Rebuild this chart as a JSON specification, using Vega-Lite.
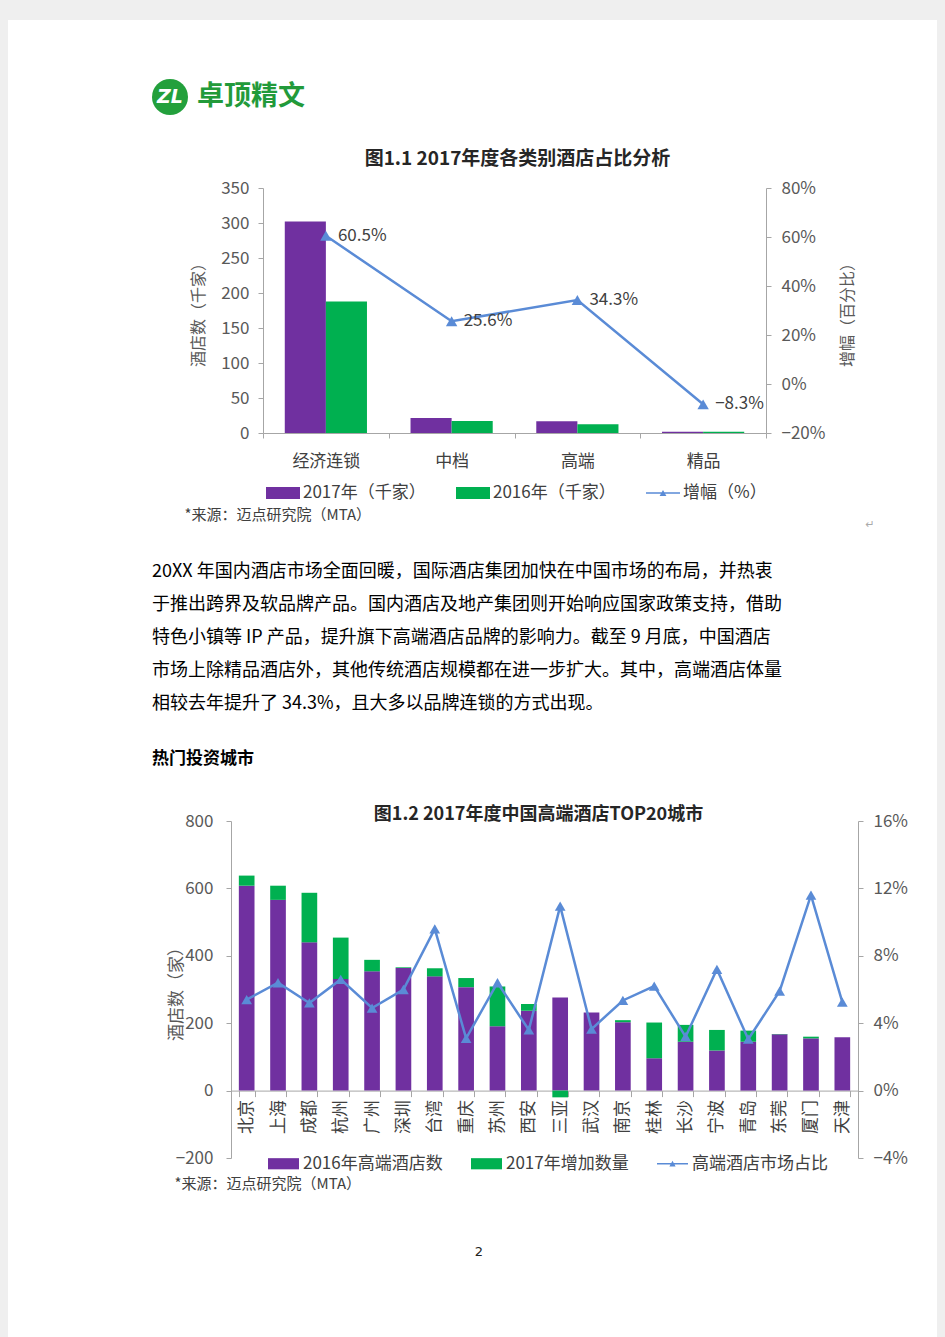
{
  "$schema": "https://vega.github.io/schema/vega-lite/v6.json",
  "autosize": {"type": "none"},
  "padding": {"left": 0, "top": 0, "right": 945, "bottom": 1337},
  "background": "#ffffff",
  "config": {
    "view": {"stroke": null},
    "font": "Noto Sans CJK SC",
    "axis": {"labelFont": "Noto Sans CJK SC", "titleFont": "Noto Sans CJK SC", "labelColor": "#595959", "titleColor": "#595959", "domainColor": "#a6a6a6", "tickColor": "#a6a6a6", "grid": false, "labelFontSize": 17, "titleFontSize": 16, "titleFontWeight": "normal", "tickSize": 5},
    "legend": {"labelFont": "Noto Sans CJK SC", "labelColor": "#404040", "labelFontSize": 17, "padding": 0},
    "title": {"font": "Noto Sans CJK SC"}
  },
  "datasets": {
    "c1bars": [
      {"category": "经济连锁", "year": "2017年（千家）", "count": 302},
      {"category": "经济连锁", "year": "2016年（千家）", "count": 188},
      {"category": "中档", "year": "2017年（千家）", "count": 21.6},
      {"category": "中档", "year": "2016年（千家）", "count": 17.2},
      {"category": "高端", "year": "2017年（千家）", "count": 16.8},
      {"category": "高端", "year": "2016年（千家）", "count": 12.5},
      {"category": "精品", "year": "2017年（千家）", "count": 1.65},
      {"category": "精品", "year": "2016年（千家）", "count": 1.8}
    ],
    "c1line": [
      {"category": "经济连锁", "pct": 0.605},
      {"category": "中档", "pct": 0.256},
      {"category": "高端", "pct": 0.343},
      {"category": "精品", "pct": -0.083}
    ],
    "c2bars": [
      {"city": "北京", "series": "2016年高端酒店数", "count": 608}, {"city": "北京", "series": "2017年增加数量", "count": 30},
      {"city": "上海", "series": "2016年高端酒店数", "count": 566}, {"city": "上海", "series": "2017年增加数量", "count": 42},
      {"city": "成都", "series": "2016年高端酒店数", "count": 440}, {"city": "成都", "series": "2017年增加数量", "count": 147},
      {"city": "杭州", "series": "2016年高端酒店数", "count": 331}, {"city": "杭州", "series": "2017年增加数量", "count": 123},
      {"city": "广州", "series": "2016年高端酒店数", "count": 354}, {"city": "广州", "series": "2017年增加数量", "count": 34},
      {"city": "深圳", "series": "2016年高端酒店数", "count": 364}, {"city": "深圳", "series": "2017年增加数量", "count": 2},
      {"city": "台湾", "series": "2016年高端酒店数", "count": 339}, {"city": "台湾", "series": "2017年增加数量", "count": 24},
      {"city": "重庆", "series": "2016年高端酒店数", "count": 307}, {"city": "重庆", "series": "2017年增加数量", "count": 27},
      {"city": "苏州", "series": "2016年高端酒店数", "count": 191}, {"city": "苏州", "series": "2017年增加数量", "count": 118},
      {"city": "西安", "series": "2016年高端酒店数", "count": 237}, {"city": "西安", "series": "2017年增加数量", "count": 20},
      {"city": "三亚", "series": "2016年高端酒店数", "count": 276}, {"city": "三亚", "series": "2017年增加数量", "count": -20},
      {"city": "武汉", "series": "2016年高端酒店数", "count": 232}, {"city": "武汉", "series": "2017年增加数量", "count": 0},
      {"city": "南京", "series": "2016年高端酒店数", "count": 203}, {"city": "南京", "series": "2017年增加数量", "count": 6},
      {"city": "桂林", "series": "2016年高端酒店数", "count": 96}, {"city": "桂林", "series": "2017年增加数量", "count": 106},
      {"city": "长沙", "series": "2016年高端酒店数", "count": 145}, {"city": "长沙", "series": "2017年增加数量", "count": 50},
      {"city": "宁波", "series": "2016年高端酒店数", "count": 119}, {"city": "宁波", "series": "2017年增加数量", "count": 61},
      {"city": "青岛", "series": "2016年高端酒店数", "count": 145}, {"city": "青岛", "series": "2017年增加数量", "count": 33},
      {"city": "东莞", "series": "2016年高端酒店数", "count": 167}, {"city": "东莞", "series": "2017年增加数量", "count": 1},
      {"city": "厦门", "series": "2016年高端酒店数", "count": 155}, {"city": "厦门", "series": "2017年增加数量", "count": 5},
      {"city": "天津", "series": "2016年高端酒店数", "count": 158}, {"city": "天津", "series": "2017年增加数量", "count": 0}
    ],
    "c2line": [
      {"city": "北京", "share": 0.054}, {"city": "上海", "share": 0.064}, {"city": "成都", "share": 0.052},
      {"city": "杭州", "share": 0.066}, {"city": "广州", "share": 0.049}, {"city": "深圳", "share": 0.060},
      {"city": "台湾", "share": 0.096}, {"city": "重庆", "share": 0.031}, {"city": "苏州", "share": 0.064},
      {"city": "西安", "share": 0.036}, {"city": "三亚", "share": 0.1095}, {"city": "武汉", "share": 0.0365},
      {"city": "南京", "share": 0.0535}, {"city": "桂林", "share": 0.062}, {"city": "长沙", "share": 0.032},
      {"city": "宁波", "share": 0.072}, {"city": "青岛", "share": 0.0305}, {"city": "东莞", "share": 0.059},
      {"city": "厦门", "share": 0.116}, {"city": "天津", "share": 0.0525}
    ],
    "para": [
      {"line": 1, "text": "20XX 年国内酒店市场全面回暖，国际酒店集团加快在中国市场的布局，并热衷"},
      {"line": 2, "text": "于推出跨界及软品牌产品。国内酒店及地产集团则开始响应国家政策支持，借助"},
      {"line": 3, "text": "特色小镇等 IP 产品，提升旗下高端酒店品牌的影响力。截至 9 月底，中国酒店"},
      {"line": 4, "text": "市场上除精品酒店外，其他传统酒店规模都在进一步扩大。其中，高端酒店体量"},
      {"line": 5, "text": "相较去年提升了 34.3%，且大多以品牌连锁的方式出现。"}
    ],
    "blank": [{}]
  },
  "spacing": 0,
  "bounds": "flush",
  "resolve": {"scale": {"color": "independent"}, "legend": {"color": "independent"}},
  "vconcat": [
    {"spacing": 0, "bounds": "flush", "vconcat": [
      {"width": 945, "height": 20, "data": {"name": "blank"}, "mark": "text", "encoding": {"text": {"value": ""}}, "view": {"fill": "#efefef"}}
    ]},
    {"spacing": 0, "bounds": "flush", "vconcat": [
      {"width": 8, "height": 1337, "data": {"name": "blank"}, "mark": "text", "encoding": {"text": {"value": ""}}, "view": {"fill": "#efefef"}}
    ]},
    {"spacing": 0, "bounds": "flush", "hconcat": [
      {"width": 937, "height": 1, "data": {"name": "blank"}, "mark": "text", "encoding": {"text": {"value": ""}}},
      {"width": 8, "height": 1337, "data": {"name": "blank"}, "mark": "text", "encoding": {"text": {"value": ""}}, "view": {"fill": "#efefef"}}
    ]},
    {"spacing": 0, "bounds": "flush", "vconcat": [
      {"width": 1, "height": 20, "data": {"name": "blank"}, "mark": "text", "encoding": {"text": {"value": ""}}},
      {"spacing": 0, "bounds": "flush", "hconcat": [
        {"width": 150, "height": 1, "data": {"name": "blank"}, "mark": "text", "encoding": {"text": {"value": ""}}},
        {"width": 40, "height": 154, "data": {"values": [{"t": "ZL"}]},
          "layer": [
            {"mark": {"type": "point", "shape": "circle", "filled": true, "size": 1296, "color": "#23a03c", "opacity": 1}, "encoding": {}},
            {"mark": {"type": "text", "fontSize": 19, "fontWeight": "bold", "fontStyle": "italic", "color": "#ffffff", "font": "DejaVu Sans", "align": "center", "baseline": "middle"}, "encoding": {"text": {"field": "t"}}}
          ]
        },
        {"width": 122, "height": 154, "data": {"values": [{"t": "卓顶精文"}]}, "mark": {"type": "text", "fontSize": 27, "fontWeight": "bold", "color": "#229a3a", "align": "center", "baseline": "middle"}, "encoding": {"text": {"field": "t"}}}
      ]}
    ]},
    {"spacing": 0, "bounds": "flush", "resolve": {"scale": {"color": "independent"}, "legend": {"color": "independent"}}, "vconcat": [
      {"width": 1, "height": 188, "data": {"name": "blank"}, "mark": "text", "encoding": {"text": {"value": ""}}},
      {"spacing": 0, "bounds": "flush", "resolve": {"scale": {"color": "independent"}, "legend": {"color": "independent"}}, "hconcat": [
        {"width": 263, "height": 1, "data": {"name": "blank"}, "mark": "text", "encoding": {"text": {"value": ""}}},
        {
          "width": 503, "height": 245,
          "title": {"text": "图1.1 2017年度各类别酒店占比分析", "fontSize": 19, "fontWeight": "bold", "color": "#262626", "frame": "group", "anchor": "middle", "offset": 10, "dx": 3},
          "layer": [
            {
              "data": {"name": "c1bars"},
              "mark": {"type": "bar"},
              "encoding": {
                "x": {"field": "category", "type": "nominal",
                  "scale": {"domain": ["经济连锁", "中档", "高端", "精品"], "paddingInner": 0, "paddingOuter": 0},
                  "axis": {"title": "*来源：迈点研究院（MTA）", "titleX": -79, "titleY": 81, "titleAlign": "left", "titleBaseline": "middle", "titleAngle": 0, "titleFontSize": 15, "titleColor": "#404040", "labelAngle": 0, "labelPadding": 15, "tickBand": "extent", "labelColor": "#404040"}},
                "xOffset": {"field": "year", "type": "nominal", "scale": {"domain": ["2017年（千家）", "2016年（千家）"], "paddingInner": 0, "paddingOuter": 0.53}},
                "y": {"field": "count", "type": "quantitative", "scale": {"domain": [0, 350]},
                  "axis": {"values": [0, 50, 100, 150, 200, 250, 300, 350], "title": "酒店数（千家）", "titlePadding": 14, "labelPadding": 9, "orient": "left"}},
                "color": {"field": "year", "type": "nominal",
                  "scale": {"domain": ["2017年（千家）", "2016年（千家）", "增幅（%）"], "range": ["#7030a0", "#00b050", "#5a8bd6"]},
                  "legend": {"orient": "none", "legendX": 3, "legendY": 288, "direction": "horizontal", "title": null, "symbolSize": 1156, "labelOffset": 3, "columnPadding": 30, "symbolStrokeWidth": 0,
                    "encode": {"symbols": {"update": {
                      "shape": {"signal": "datum.value === '增幅（%）' ? 'M-1,-0.05H1V0.05H-1Z M-0.2,0.17L0,-0.18L0.2,0.17Z' : 'M-1,-0.36H1V0.36H-1Z'"},
                      "fill": {"signal": "datum.value === '增幅（%）' ? '#5a8bd6' : (datum.value === '2017年（千家）' ? '#7030a0' : '#00b050')"},
                      "strokeWidth": {"value": 0},
                      "opacity": {"value": 1}
                    }}}}
                }
              }
            },
            {
              "data": {"name": "c1line"},
              "encoding": {
                "x": {"field": "category", "type": "nominal"},
                "y": {"field": "pct", "type": "quantitative", "scale": {"domain": [-0.2, 0.8]},
                  "axis": {"orient": "right", "format": ".0%", "values": [-0.2, 0, 0.2, 0.4, 0.6, 0.8], "title": "增幅（百分比）", "titleAngle": -90, "titlePadding": 31, "labelPadding": 10}}
              },
              "layer": [
                {"mark": {"type": "line", "strokeWidth": 2.5, "point": {"shape": "triangle-up", "filled": true, "size": 130}}, "encoding": {"color": {"datum": "增幅（%）"}}},
                {"mark": {"type": "text", "align": "left", "baseline": "middle", "dx": 12, "fontSize": 17, "color": "#404040"}, "encoding": {"text": {"field": "pct", "type": "quantitative", "format": ".1%"}}}
              ]
            }
          ],
          "resolve": {"scale": {"y": "independent"}}
        }
      ]}
    ]},
    {"spacing": 0, "bounds": "flush", "vconcat": [
      {"width": 1, "height": 433, "data": {"name": "blank"}, "mark": "text", "encoding": {"text": {"value": ""}}},
      {"spacing": 0, "bounds": "flush", "hconcat": [
        {"width": 812, "height": 1, "data": {"name": "blank"}, "mark": "text", "encoding": {"text": {"value": ""}}},
        {"width": 116, "height": 184, "data": {"values": [{"t": "↵"}]}, "mark": {"type": "text", "fontSize": 11, "color": "#aaaaaa", "font": "DejaVu Sans"}, "encoding": {"text": {"field": "t"}}}
      ]}
    ]},
    {"spacing": 0, "bounds": "flush", "vconcat": [
      {"width": 1, "height": 555, "data": {"name": "blank"}, "mark": "text", "encoding": {"text": {"value": ""}}},
      {"spacing": 0, "bounds": "flush", "hconcat": [
        {"width": 152, "height": 1, "data": {"name": "blank"}, "mark": "text", "encoding": {"text": {"value": ""}}},
        {
          "width": 660, "height": 166,
          "title": {"text": "热门投资城市", "orient": "bottom", "anchor": "start", "frame": "group", "offset": 30, "fontSize": 17, "fontWeight": "bold", "color": "#000000"},
          "data": {"name": "para"},
          "mark": {"type": "text", "align": "left", "baseline": "middle", "fontSize": 18, "color": "#000000"},
          "encoding": {
            "x": {"datum": 0, "type": "quantitative", "scale": {"domain": [0, 1]}, "axis": null},
            "y": {"field": "line", "type": "ordinal", "axis": null},
            "text": {"field": "text"}
          }
        }
      ]}
    ]},
    {"spacing": 0, "bounds": "flush", "resolve": {"scale": {"color": "independent"}, "legend": {"color": "independent"}}, "vconcat": [
      {"width": 1, "height": 821, "data": {"name": "blank"}, "mark": "text", "encoding": {"text": {"value": ""}}},
      {"spacing": 0, "bounds": "flush", "resolve": {"scale": {"color": "independent"}, "legend": {"color": "independent"}}, "hconcat": [
        {"width": 231, "height": 1, "data": {"name": "blank"}, "mark": "text", "encoding": {"text": {"value": ""}}},
        {
          "width": 627, "height": 337,
          "title": {"text": "图1.2 2017年度中国高端酒店TOP20城市", "fontSize": 18, "fontWeight": "bold", "color": "#262626", "frame": "group", "anchor": "middle", "offset": -12, "dx": -6},
          "layer": [
            {
              "data": {"name": "c2bars"},
              "mark": {"type": "bar"},
              "encoding": {
                "x": {"field": "city", "type": "nominal",
                  "scale": {"domain": ["北京", "上海", "成都", "杭州", "广州", "深圳", "台湾", "重庆", "苏州", "西安", "三亚", "武汉", "南京", "桂林", "长沙", "宁波", "青岛", "东莞", "厦门", "天津"], "paddingInner": 0.5, "paddingOuter": 0.25},
                  "axis": {"title": "*来源：迈点研究院（MTA）", "titleX": -57, "titleY": 92.4, "titleAlign": "left", "titleBaseline": "middle", "titleAngle": 0, "titleFontSize": 15, "titleColor": "#404040", "labelAngle": -90, "labelPadding": 3, "tickBand": "extent", "offset": -67.4, "tickSize": 6, "labelColor": "#404040"}},
                "y": {"field": "count", "type": "quantitative", "stack": "zero", "scale": {"domain": [-200, 800]},
                  "axis": {"values": [-200, 0, 200, 400, 600, 800], "title": "酒店数（家）", "titleFontSize": 17, "titlePadding": -10, "labelPadding": 13}},
                "order": {"field": "series", "type": "ordinal", "sort": "ascending"},
                "color": {"field": "series", "type": "nominal",
                  "scale": {"domain": ["2016年高端酒店数", "2017年增加数量", "高端酒店市场占比"], "range": ["#7030a0", "#00b050", "#5a8bd6"]},
                  "legend": {"orient": "none", "legendX": 37, "legendY": 327, "direction": "horizontal", "title": null, "symbolSize": 961, "labelOffset": 4, "columnPadding": 28, "symbolStrokeWidth": 0,
                    "encode": {"symbols": {"update": {
                      "shape": {"signal": "datum.value === '高端酒店市场占比' ? 'M-1,-0.05H1V0.05H-1Z M-0.2,0.18L0,-0.19L0.2,0.18Z' : 'M-1,-0.36H1V0.36H-1Z'"},
                      "fill": {"signal": "datum.value === '高端酒店市场占比' ? '#5a8bd6' : (datum.value === '2016年高端酒店数' ? '#7030a0' : '#00b050')"},
                      "strokeWidth": {"value": 0},
                      "opacity": {"value": 1}
                    }}}}
                }
              }
            },
            {
              "data": {"name": "c2line"},
              "mark": {"type": "line", "strokeWidth": 2.5, "point": {"shape": "triangle-up", "filled": true, "size": 115}},
              "encoding": {
                "x": {"field": "city", "type": "nominal"},
                "y": {"field": "share", "type": "quantitative", "scale": {"domain": [-0.04, 0.16]},
                  "axis": {"orient": "right", "format": ".0%", "values": [-0.04, 0, 0.04, 0.08, 0.12, 0.16], "title": null, "labelPadding": 10}},
                "color": {"datum": "高端酒店市场占比"}
              }
            }
          ],
          "resolve": {"scale": {"y": "independent"}}
        }
      ]}
    ]},
    {"spacing": 0, "bounds": "flush", "vconcat": [
      {"width": 1, "height": 1158, "data": {"name": "blank"}, "mark": "text", "encoding": {"text": {"value": ""}}},
      {"spacing": 0, "bounds": "flush", "hconcat": [
        {"width": 459, "height": 1, "data": {"name": "blank"}, "mark": "text", "encoding": {"text": {"value": ""}}},
        {"width": 40, "height": 188, "data": {"values": [{"t": "2"}]}, "mark": {"type": "text", "fontSize": 13, "color": "#222222", "font": "DejaVu Sans"}, "encoding": {"text": {"field": "t"}}}
      ]}
    ]}
  ]
}
